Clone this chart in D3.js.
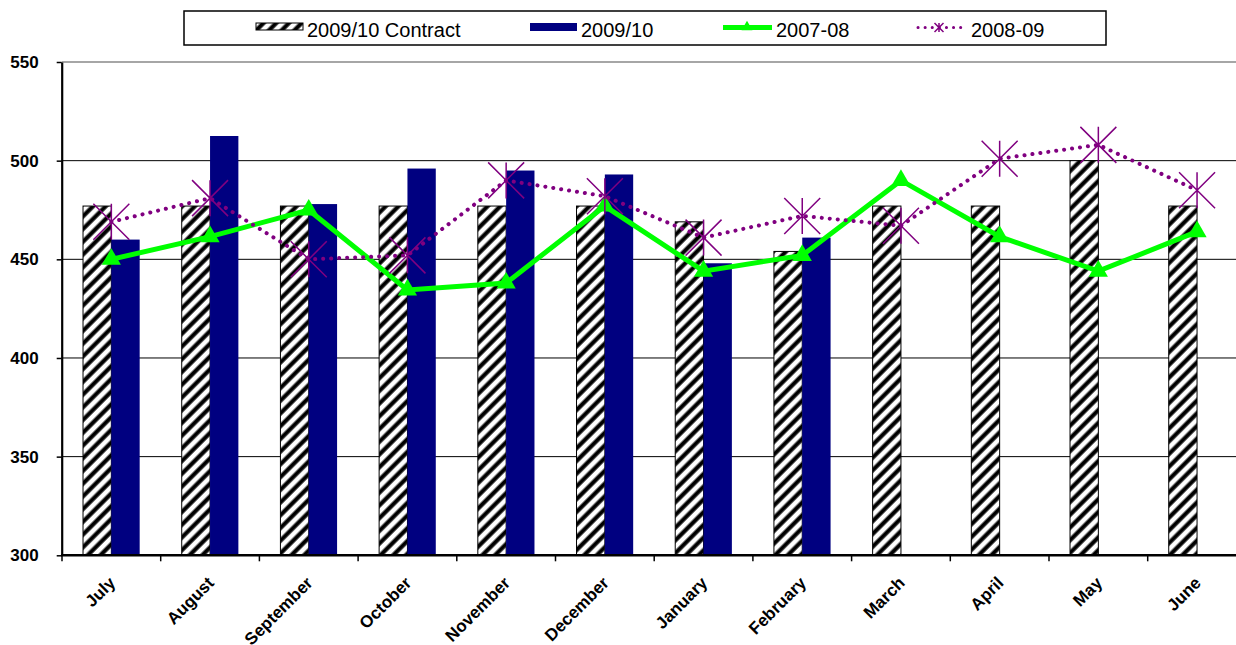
<!DOCTYPE html>
<html>
<head>
<meta charset="utf-8">
<script src="https://cdn.jsdelivr.net/npm/d3@7"></script>
<style>
  body { margin: 0; background: #fff; }
  svg { display: block; font-family: "Liberation Sans", Arial, sans-serif; }
</style>
</head>
<body>
<script>
// Data
const months = ["July", "August", "September", "October", "November", "December",
                "January", "February", "March", "April", "May", "June"];
const contract0910 = [477, 477, 477, 477, 477, 477, 469, 454, 477, 477, 500, 477];
const actual0910 = [460, 512.5, 478, 496, 495, 493, 448, 461];
const series0708 = [450, 461.5, 475, 434.5, 438, 477, 444, 452, 490, 461.5, 444, 464];
const series0809 = [469, 481, 450, 452, 490, 482, 461, 472, 467, 501, 508, 485];
const yTicks = [300, 350, 400, 450, 500, 550];
const legendLabels = ["2009/10 Contract", "2009/10", "2007-08", "2008-09"];

const width = 1236, height = 645;

const svg = d3.select("body").append("svg")
    .attr("width", width)
    .attr("height", height);

// hatch pattern for the contract bars
const defs = svg.append("defs");
const hatch = defs.append("pattern")
    .attr("id", "hatch")
    .attr("patternUnits", "userSpaceOnUse")
    .attr("width", 9)
    .attr("height", 9)
    .attr("patternTransform", "rotate(45)");
hatch.append("rect").attr("width", 9).attr("height", 9).attr("fill", "#fff");
hatch.append("rect").attr("x", 2.5).attr("width", 4.2).attr("height", 9).attr("fill", "#000");

// scales (plot runs a little past the right edge, like the original crop)
const x = d3.scaleBand()
    .domain(months)
    .range([62, 1246.4]);

const y = d3.scaleLinear()
    .domain([300, 550])
    .range([555.3, 62]);

const bw = x.bandwidth();
const barW = bw * 0.287;

// gridlines
svg.append("g")
    .selectAll("line")
    .data(yTicks.filter(d => d > 300))
    .enter()
    .append("line")
    .attr("x1", 62)
    .attr("x2", width)
    .attr("y1", d => y(d))
    .attr("y2", d => y(d))
    .attr("stroke", d => d === 550 ? "#888" : "#000")
    .attr("stroke-width", d => d === 550 ? 1.5 : 1);

// contract bars (hatched)
svg.append("g")
    .selectAll("rect")
    .data(contract0910)
    .enter()
    .append("rect")
    .attr("x", (d, i) => x(months[i]) + bw / 2 - barW)
    .attr("y", d => y(d))
    .attr("width", barW)
    .attr("height", d => y(300) - y(d))
    .attr("fill", "url(#hatch)")
    .attr("stroke", "#000")
    .attr("stroke-width", 1);

// 2009/10 actual bars
svg.append("g")
    .selectAll("rect")
    .data(actual0910)
    .enter()
    .append("rect")
    .attr("x", (d, i) => x(months[i]) + bw / 2)
    .attr("y", d => y(d))
    .attr("width", barW)
    .attr("height", d => y(300) - y(d))
    .attr("fill", "#000080");

// y axis
const yAxis = svg.append("g")
    .attr("transform", "translate(61.7,0)")
    .call(d3.axisLeft(y).tickValues(yTicks).tickSize(5).tickSizeOuter(0).tickPadding(18));
yAxis.select(".domain").attr("stroke", "#000").attr("stroke-width", 2.2);
yAxis.selectAll(".tick line").attr("stroke", "#000").attr("stroke-width", 1.5);
yAxis.selectAll("text")
    .attr("fill", "#000")
    .style("font-size", "17px")
    .style("font-weight", "bold");

// x axis line + ticks at band boundaries
svg.append("line")
    .attr("x1", 61)
    .attr("x2", width)
    .attr("y1", y(300))
    .attr("y2", y(300))
    .attr("stroke", "#000")
    .attr("stroke-width", 2.5);

svg.append("g")
    .selectAll("line")
    .data(months)
    .enter()
    .append("line")
    .attr("x1", d => x(d))
    .attr("x2", d => x(d))
    .attr("y1", y(300))
    .attr("y2", y(300) + 6)
    .attr("stroke", "#000")
    .attr("stroke-width", 1.5);

// month labels, rotated
svg.append("g")
    .selectAll("text")
    .data(months)
    .enter()
    .append("text")
    .attr("transform", d => `translate(${x(d) + bw / 2 + 5},584) rotate(-45)`)
    .attr("text-anchor", "end")
    .style("font-size", "17px")
    .style("font-weight", "bold")
    .text(d => d);

// 2007-08 line (green with triangles)
const line = d3.line()
    .x((d, i) => x(months[i]) + bw / 2)
    .y(d => y(d));

svg.append("path")
    .datum(series0708)
    .attr("d", line)
    .attr("fill", "none")
    .attr("stroke", "#00ff00")
    .attr("stroke-width", 5);

svg.append("g")
    .selectAll("path")
    .data(series0708)
    .enter()
    .append("path")
    .attr("transform", (d, i) => `translate(${x(months[i]) + bw / 2},${y(d)})`)
    .attr("d", d3.symbol(d3.symbolTriangle, 160))
    .attr("fill", "#00ff00");

// 2008-09 line (purple dotted with star markers)
svg.append("path")
    .datum(series0809)
    .attr("d", line)
    .attr("fill", "none")
    .attr("stroke", "#800080")
    .attr("stroke-width", 4)
    .attr("stroke-linecap", "round")
    .attr("stroke-dasharray", "0.1 7.9");

function star(g, r) {
    g.append("path")
        .attr("d", `M${-r},${-r}L${r},${r}M${-r},${r}L${r},${-r}M0,${-r}L0,${r}`)
        .attr("stroke", "#800080")
        .attr("stroke-width", 1.5)
        .attr("fill", "none");
}

svg.append("g")
    .selectAll("g")
    .data(series0809)
    .enter()
    .append("g")
    .attr("transform", (d, i) => `translate(${x(months[i]) + bw / 2},${y(d)})`)
    .each(function() { star(d3.select(this), 18); });

// legend
const legend = svg.append("g");
legend.append("rect")
    .attr("x", 184)
    .attr("y", 11)
    .attr("width", 922)
    .attr("height", 34)
    .attr("fill", "#fff")
    .attr("stroke", "#000")
    .attr("stroke-width", 1.5);

legend.append("rect")
    .attr("x", 256).attr("y", 23)
    .attr("width", 47).attr("height", 7)
    .attr("fill", "url(#hatch)")
    .attr("stroke", "#000");

legend.append("rect")
    .attr("x", 530).attr("y", 23)
    .attr("width", 47).attr("height", 8)
    .attr("fill", "#000080");

legend.append("line")
    .attr("x1", 723).attr("x2", 772)
    .attr("y1", 27.5).attr("y2", 27.5)
    .attr("stroke", "#00ff00")
    .attr("stroke-width", 5);
legend.append("path")
    .attr("transform", "translate(747,27)")
    .attr("d", d3.symbol(d3.symbolTriangle, 52))
    .attr("fill", "#00ff00");

legend.append("line")
    .attr("x1", 918).attr("x2", 961)
    .attr("y1", 27.5).attr("y2", 27.5)
    .attr("stroke", "#800080")
    .attr("stroke-width", 3)
    .attr("stroke-linecap", "round")
    .attr("stroke-dasharray", "0.1 7");
star(legend.append("g").attr("transform", "translate(939,27.5)"), 4.5);

legend.selectAll("text")
    .data(legendLabels)
    .enter()
    .append("text")
    .attr("x", (d, i) => [307, 581, 776, 971][i])
    .attr("y", 37)
    .style("font-size", "20px")
    .text(d => d);
</script>
</body>
</html>
